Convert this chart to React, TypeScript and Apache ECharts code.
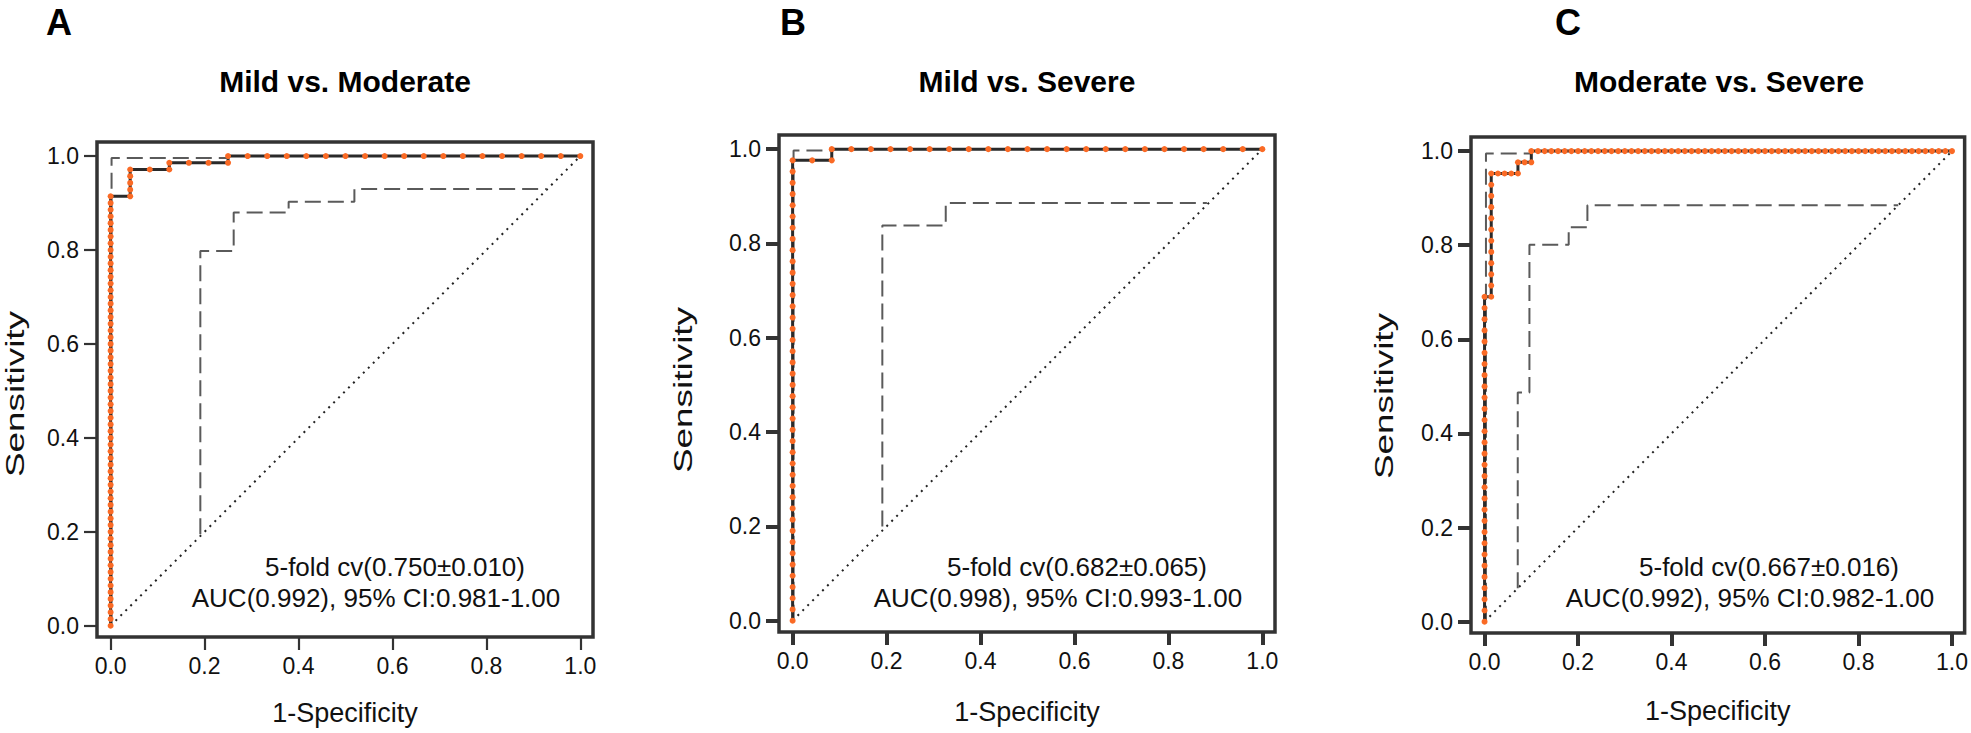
import React, { useEffect, useRef } from "react";
import * as echarts from "echarts";

// ---------- text ----------
const PANEL_LETTERS = ["A", "B", "C"];
const PANEL_TITLES = ["Mild vs. Moderate", "Mild vs. Severe", "Moderate vs. Severe"];
const CV_TEXT = ["5-fold cv(0.750±0.010)", "5-fold cv(0.682±0.065)", "5-fold cv(0.667±0.016)"];
const AUC_TEXT = [
  "AUC(0.992), 95% CI:0.981-1.00",
  "AUC(0.998), 95% CI:0.993-1.00",
  "AUC(0.992), 95% CI:0.982-1.00",
];
const X_NAME = "1-Specificity";
const Y_NAME = "Sensitivity";
const TICK_VALUES = [0, 0.2, 0.4, 0.6, 0.8, 1.0];

// ---------- data: ROC operating points as (false-positive count, true-positive count) ----------
const N_POS = [70, 42, 42];
const N_NEG = [24, 24, 70];

const A_FP = [
  0, 0, 0, 0, 0, 0, 0, 0, 0, 0, 0, 0, 0,
  0, 0, 0, 0, 0, 0, 0, 0, 0, 0, 0, 0, 0,
  0, 0, 0, 0, 0, 0, 0, 0, 0, 0, 0, 0, 0,
  0, 0, 0, 0, 0, 0, 0, 0, 0, 0, 0, 0, 0,
  0, 0, 0, 0, 0, 0, 0, 0, 0, 0, 0, 0, 0,
  1, 1, 1, 1, 1, 2, 3, 3, 4, 5, 6, 6,
  7, 8, 9, 10, 11, 12, 13, 14, 15, 16, 17, 18, 19, 20, 21, 22, 23, 24,
];
const A_TP = [
  0, 1, 2, 3, 4, 5, 6, 7, 8, 9, 10, 11, 12,
  13, 14, 15, 16, 17, 18, 19, 20, 21, 22, 23, 24, 25,
  26, 27, 28, 29, 30, 31, 32, 33, 34, 35, 36, 37, 38,
  39, 40, 41, 42, 43, 44, 45, 46, 47, 48, 49, 50, 51,
  52, 53, 54, 55, 56, 57, 58, 59, 60, 61, 62, 63, 64,
  64, 65, 66, 67, 68, 68, 68, 69, 69, 69, 69, 70,
  70, 70, 70, 70, 70, 70, 70, 70, 70, 70, 70, 70, 70, 70, 70, 70, 70, 70,
];

const B_FP = [
  0, 0, 0, 0, 0, 0, 0, 0, 0, 0, 0, 0, 0, 0,
  0, 0, 0, 0, 0, 0, 0, 0, 0, 0, 0, 0, 0, 0,
  0, 0, 0, 0, 0, 0, 0, 0, 0, 0, 0, 0, 0, 0,
  1, 2, 2,
  3, 4, 5, 6, 7, 8, 9, 10, 11, 12, 13, 14, 15, 16, 17, 18, 19, 20, 21, 22, 23, 24,
];
const B_TP = [
  0, 1, 2, 3, 4, 5, 6, 7, 8, 9, 10, 11, 12, 13,
  14, 15, 16, 17, 18, 19, 20, 21, 22, 23, 24, 25, 26, 27,
  28, 29, 30, 31, 32, 33, 34, 35, 36, 37, 38, 39, 40, 41,
  41, 41, 42,
  42, 42, 42, 42, 42, 42, 42, 42, 42, 42, 42, 42, 42, 42, 42, 42, 42, 42, 42, 42, 42, 42,
];

const C_FP = [
  0, 0, 0, 0, 0, 0, 0, 0, 0, 0, 0, 0, 0, 0, 0,
  0, 0, 0, 0, 0, 0, 0, 0, 0, 0, 0, 0, 0, 0, 0,
  1, 1, 1, 1, 1, 1, 1, 1, 1, 1, 1, 1,
  2, 3, 4, 5, 5, 6, 7, 7,
  8, 9, 10, 11, 12, 13, 14, 15, 16, 17, 18, 19, 20, 21, 22, 23, 24, 25, 26, 27, 28,
  29, 30, 31, 32, 33, 34, 35, 36, 37, 38, 39, 40, 41, 42, 43, 44, 45, 46, 47, 48, 49,
  50, 51, 52, 53, 54, 55, 56, 57, 58, 59, 60, 61, 62, 63, 64, 65, 66, 67, 68, 69, 70,
];
const C_TP = [
  0, 1, 2, 3, 4, 5, 6, 7, 8, 9, 10, 11, 12, 13, 14,
  15, 16, 17, 18, 19, 20, 21, 22, 23, 24, 25, 26, 27, 28, 29,
  29, 30, 31, 32, 33, 34, 35, 36, 37, 38, 39, 40,
  40, 40, 40, 40, 41, 41, 41, 42,
  42, 42, 42, 42, 42, 42, 42, 42, 42, 42, 42, 42, 42, 42, 42, 42, 42, 42, 42, 42, 42,
  42, 42, 42, 42, 42, 42, 42, 42, 42, 42, 42, 42, 42, 42, 42, 42, 42, 42, 42, 42, 42,
  42, 42, 42, 42, 42, 42, 42, 42, 42, 42, 42, 42, 42, 42, 42, 42, 42, 42, 42, 42, 42,
];

// ---------- confidence bands (dashed), [1-specificity, sensitivity] ----------
const A_UPPER = [[0.002, 0.0], [0.002, 0.996], [0.25, 0.996]];
const A_LOWER = [
  [0.191, 0.195], [0.191, 0.798], [0.262, 0.798], [0.262, 0.88], [0.379, 0.88],
  [0.379, 0.903], [0.519, 0.903], [0.519, 0.93], [0.928, 0.93],
];
const B_UPPER = [[0.002, 0.0], [0.002, 0.997], [0.083, 0.997]];
const B_LOWER = [
  [0.191, 0.2], [0.191, 0.838], [0.326, 0.838], [0.326, 0.886], [0.882, 0.886],
];
const C_UPPER = [[0.003, 0.0], [0.003, 0.995], [0.1, 0.995]];
const C_LOWER = [
  [0.071, 0.071], [0.071, 0.487], [0.096, 0.487], [0.096, 0.801], [0.18, 0.801],
  [0.18, 0.838], [0.22, 0.838], [0.22, 0.885], [0.885, 0.885],
];
const DIAGONAL = [[0, 0], [1, 1]];

const ROC_FP = [A_FP, B_FP, C_FP];
const ROC_TP = [A_TP, B_TP, C_TP];
const UPPER = [A_UPPER, B_UPPER, C_UPPER];
const LOWER = [A_LOWER, B_LOWER, C_LOWER];

// ---------- layout / style ----------
const GRIDS = [
  { left: 97, top: 142, width: 496, height: 495 },
  { left: 779, top: 135, width: 496, height: 497 },
  { left: 1471, top: 137, width: 496, height: 496 },
];
const TICK_WIDTH = [2.2, 4, 4];
const X_NAME_GAP = [62, 66, 64];
const Y_NAME_X = [15, 683, 1384];
const Y_NAME_Y = [394, 390, 396];
const LETTER_X = [46, 780, 1555];
const FONT = '"Liberation Sans", Arial, Helvetica, sans-serif';
const ORANGE = "#FA6A25";
const DARK = "#333333";

export default function App() {
  const ref = useRef<HTMLDivElement>(null);

  useEffect(() => {
    if (!ref.current) return;
    const chart = echarts.init(ref.current, undefined, { renderer: "svg" });

    const xAxis: any[] = [];
    const yAxis: any[] = [];
    const series: any[] = [];
    const graphic: any[] = [];

    GRIDS.forEach((g, i) => {
      xAxis.push({
        gridIndex: i,
        type: "value",
        min: -0.029,
        max: 1.027,
        axisLine: { show: false, onZero: false },
        splitLine: { show: false },
        axisTick: {
          show: true,
          length: 13,
          customValues: TICK_VALUES,
          lineStyle: { color: DARK, width: TICK_WIDTH[i] },
        },
        axisLabel: {
          customValues: TICK_VALUES,
          formatter: (v: number) => v.toFixed(1),
          fontSize: 23,
          color: "#111",
          fontFamily: FONT,
          margin: 17,
        },
        name: X_NAME,
        nameLocation: "middle",
        nameGap: X_NAME_GAP[i],
        nameTextStyle: { fontSize: 27, color: "#111", fontFamily: FONT },
      });
      yAxis.push({
        gridIndex: i,
        type: "value",
        min: -0.024,
        max: 1.03,
        axisLine: { show: false, onZero: false },
        splitLine: { show: false },
        axisTick: {
          show: true,
          length: 13,
          customValues: TICK_VALUES,
          lineStyle: { color: DARK, width: TICK_WIDTH[i] },
        },
        axisLabel: {
          customValues: TICK_VALUES,
          formatter: (v: number) => v.toFixed(1),
          fontSize: 23,
          color: "#111",
          fontFamily: FONT,
          margin: 18,
        },
      });

      series.push({
        type: "line",
        xAxisIndex: i,
        yAxisIndex: i,
        data: DIAGONAL,
        showSymbol: false,
        silent: true,
        z: 2,
        lineStyle: { color: "#222", width: 2, type: [2, 5] },
      });
      series.push({
        type: "line",
        xAxisIndex: i,
        yAxisIndex: i,
        data: UPPER[i],
        showSymbol: false,
        silent: true,
        z: 3,
        lineStyle: { color: "#5a5a5a", width: 2, type: [16, 7] },
      });
      series.push({
        type: "line",
        xAxisIndex: i,
        yAxisIndex: i,
        data: LOWER[i],
        showSymbol: false,
        silent: true,
        z: 3,
        lineStyle: { color: "#5a5a5a", width: 2, type: [16, 7] },
      });
      const fp = ROC_FP[i];
      const tp = ROC_TP[i];
      series.push({
        type: "line",
        xAxisIndex: i,
        yAxisIndex: i,
        data: fp.map((f, k) => [f / N_NEG[i], tp[k] / N_POS[i]]),
        showSymbol: true,
        showAllSymbol: true,
        symbol: "circle",
        symbolSize: 6,
        silent: true,
        z: 5,
        lineStyle: { color: "#2a2a2a", width: 3 },
        itemStyle: { color: ORANGE, borderWidth: 0 },
      });

      const cx = g.left + g.width / 2;
      graphic.push({
        type: "text",
        x: LETTER_X[i],
        y: 4,
        style: {
          text: PANEL_LETTERS[i],
          fill: "#000",
          fontSize: 36,
          fontWeight: "bold",
          fontFamily: FONT,
          textAlign: "left",
          textVerticalAlign: "top",
        },
      });
      graphic.push({
        type: "text",
        x: cx,
        y: 81,
        style: {
          text: PANEL_TITLES[i],
          fill: "#000",
          fontSize: 30,
          fontWeight: "bold",
          fontFamily: FONT,
          textAlign: "center",
          textVerticalAlign: "middle",
        },
      });
      graphic.push({
        type: "text",
        x: Y_NAME_X[i],
        y: Y_NAME_Y[i],
        rotation: Math.PI / 2,
        scaleX: 1.42,
        scaleY: 1,
        style: {
          text: Y_NAME,
          fill: "#111",
          fontSize: 26,
          fontFamily: FONT,
          textAlign: "center",
          textVerticalAlign: "middle",
        },
      });
      graphic.push({
        type: "text",
        x: g.left + 298,
        y: 567,
        style: {
          text: CV_TEXT[i],
          fill: "#111",
          fontSize: 26,
          fontFamily: FONT,
          textAlign: "center",
          textVerticalAlign: "middle",
        },
      });
      graphic.push({
        type: "text",
        x: g.left + 279,
        y: 598,
        style: {
          text: AUC_TEXT[i],
          fill: "#111",
          fontSize: 26,
          fontFamily: FONT,
          textAlign: "center",
          textVerticalAlign: "middle",
        },
      });
    });

    chart.setOption({
      animation: false,
      backgroundColor: "#ffffff",
      grid: GRIDS.map((g) => ({
        ...g,
        show: true,
        borderColor: DARK,
        borderWidth: 3.5,
        backgroundColor: "transparent",
        containLabel: false,
      })),
      xAxis,
      yAxis,
      series,
      graphic,
    });

    return () => chart.dispose();
  }, []);

  return (
    <div
      ref={ref}
      style={{ position: "absolute", left: 0, top: 0, width: 1971, height: 733 }}
    />
  );
}
